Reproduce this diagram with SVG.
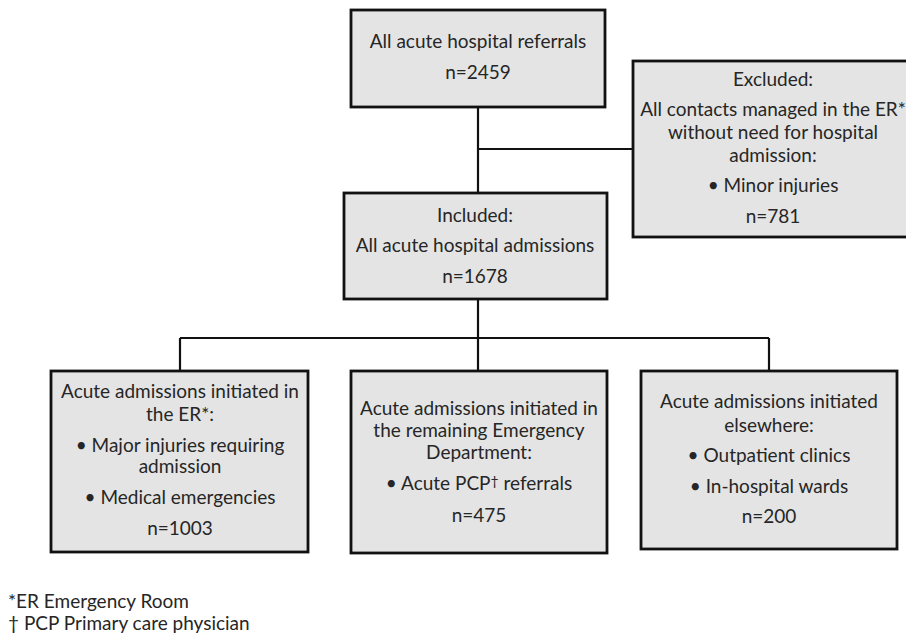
<svg xmlns="http://www.w3.org/2000/svg" width="906" height="637" viewBox="0 0 906 637">
<style>
.box{fill:#e4e4e4;stroke:#111;stroke-width:2.8}
.ln{fill:none;stroke:#111;stroke-width:2.2}
text{font-family:Lato,"Open Sans",sans-serif;font-size:19px;fill:#262626;text-anchor:middle}
.fn{text-anchor:start}
.sup{font-size:14px}
</style>
<rect x="0" y="0" width="906" height="637" fill="#ffffff"/>
<g id="connectors">
<path class="ln" d="M478,107 V193"/>
<path class="ln" d="M478,149 H633"/>
<path class="ln" d="M478,299 V371"/>
<path class="ln" d="M180,338 H769"/>
<path class="ln" d="M180,338 V371"/>
<path class="ln" d="M769,338 V371"/>
</g>
<g id="referrals">
<rect class="box" x="351" y="10" width="254" height="97"/>
<text x="478" y="48">All acute hospital referrals</text>
<text x="478" y="79">n=2459</text>
</g>
<g id="excluded">
<rect class="box" x="633" y="61" width="280" height="176"/>
<text x="773" y="86">Excluded:</text>
<text x="773" y="116">All contacts managed in the ER*</text>
<text x="773" y="139">without need for hospital</text>
<text x="773" y="162">admission:</text>
<text x="773" y="192">• Minor injuries</text>
<text x="773" y="223">n=781</text>
</g>
<g id="included">
<rect class="box" x="344" y="193" width="263" height="106"/>
<text x="475" y="222">Included:</text>
<text x="475" y="252">All acute hospital admissions</text>
<text x="475" y="283">n=1678</text>
</g>
<g id="er">
<rect class="box" x="51" y="371" width="257" height="181"/>
<text x="180" y="398">Acute admissions initiated in</text>
<text x="180" y="421">the ER*:</text>
<text x="180" y="452">• Major injuries requiring</text>
<text x="180" y="473">admission</text>
<text x="180" y="504">• Medical emergencies</text>
<text x="180" y="535">n=1003</text>
</g>
<g id="ed">
<rect class="box" x="351" y="371" width="256" height="182"/>
<text x="479" y="415">Acute admissions initiated in</text>
<text x="479" y="437">the remaining Emergency</text>
<text x="479" y="459">Department:</text>
<text x="479" y="490">• Acute PCP<tspan class="sup" dy="-4">†</tspan><tspan dy="4"> referrals</tspan></text>
<text x="479" y="522">n=475</text>
</g>
<g id="elsewhere">
<rect class="box" x="641" y="371" width="256" height="178"/>
<text x="769" y="408">Acute admissions initiated</text>
<text x="769" y="432">elsewhere:</text>
<text x="769" y="462">• Outpatient clinics</text>
<text x="769" y="493">• In-hospital wards</text>
<text x="769" y="523">n=200</text>
</g>
<g id="footnotes">
<text class="fn" x="8" y="608">*ER Emergency Room</text>
<text class="fn" x="8" y="630">† PCP Primary care physician</text>
</g>
</svg>
